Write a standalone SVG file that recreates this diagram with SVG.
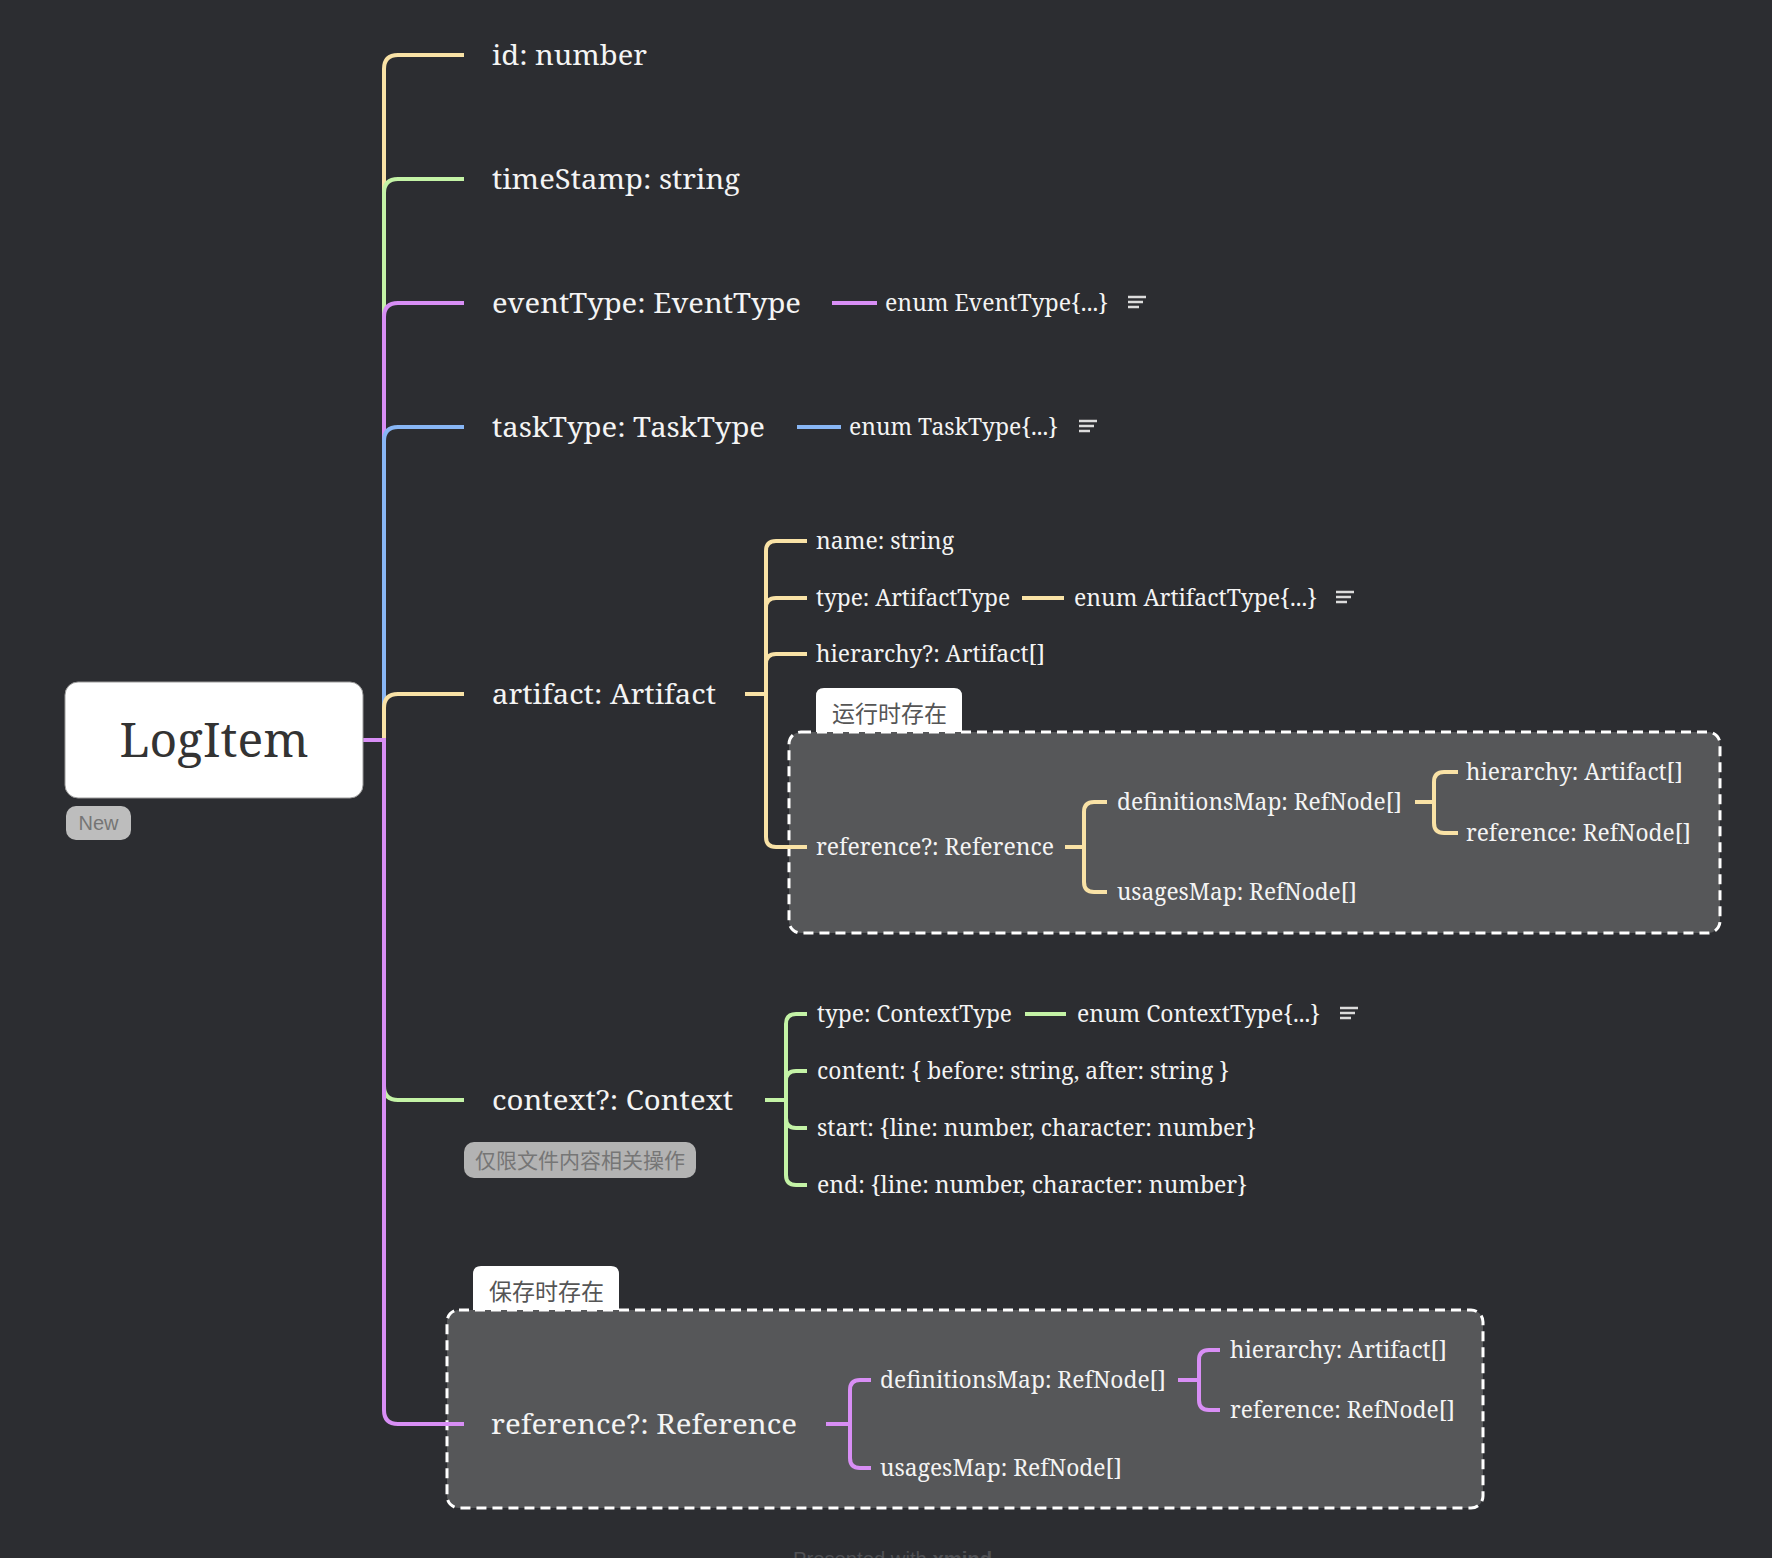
<svg xmlns="http://www.w3.org/2000/svg" width="1772" height="1558" viewBox="0 0 1772 1558">
<style>
.t1{font-family:"Noto Serif","DejaVu Serif",serif;font-size:27px;fill:#f4f4f4}
.t2{font-family:"Noto Serif","DejaVu Serif",serif;font-size:23px;fill:#f4f4f4}
.c{fill:none;stroke-width:4}
.y{stroke:#f9e2a6}.g{stroke:#c4f3a6}.p{stroke:#d88ef5}.b{stroke:#88b6f5}
.note{stroke:#dcdcdc;stroke-width:2.5}
.tag{font-family:"Liberation Sans","Noto Sans CJK SC",sans-serif;font-size:20px;fill:#757575}
.tagc{font-family:"Noto Sans CJK SC","Liberation Sans",sans-serif;font-size:21px;fill:#767676}
.lbl{font-family:"Noto Sans CJK SC","Liberation Sans",sans-serif;font-size:23px;fill:#555}
.bnd{fill:#565759;stroke:#ffffff;stroke-width:3;stroke-dasharray:10 6}
</style>
<defs>
<g id="note"><line class="note" x1="0" y1="-5" x2="18" y2="-5"/><line class="note" x1="0" y1="0" x2="15" y2="0"/><line class="note" x1="0" y1="5" x2="11" y2="5"/></g>
</defs>
<rect width="1772" height="1558" fill="#2c2d31"/>

<g id="boundaries">
<path d="M816,732 V696 Q816,688 824,688 H954 Q962,688 962,696 V732 Z" fill="#ffffff"/>
<text class="lbl" x="832" y="722">运行时存在</text>
<rect class="bnd" x="789" y="732" width="931" height="201" rx="12"/>
<path d="M473,1310 V1274 Q473,1266 481,1266 H611 Q619,1266 619,1274 V1310 Z" fill="#ffffff"/>
<text class="lbl" x="489" y="1300">保存时存在</text>
<rect class="bnd" x="447" y="1310" width="1036" height="198" rx="12"/>
</g>

<g id="connectors">
<path class="c y" d="M384,740 V69 Q384,55 398,55 H464"/>
<path class="c g" d="M384,740 V193 Q384,179 398,179 H464"/>
<path class="c p" d="M384,740 V317 Q384,303 398,303 H464"/>
<path class="c b" d="M384,740 V441 Q384,427 398,427 H464"/>
<path class="c y" d="M384,740 V708 Q384,694 398,694 H464"/>
<path class="c g" d="M384,740 V1086 Q384,1100 398,1100 H464"/>
<path class="c p" d="M384,740 V1410 Q384,1424 398,1424 H464"/>
<path class="c p" d="M363,740 H386"/>
<path class="c p" d="M832,303 H877"/>
<path class="c b" d="M797,427 H841"/>
<path class="c y" d="M745,694 H766"/>
<path class="c y" d="M766,694 V551 Q766,541 776,541 H807"/>
<path class="c y" d="M766,694 V608 Q766,598 776,598 H807"/>
<path class="c y" d="M766,694 V664 Q766,654 776,654 H807"/>
<path class="c y" d="M766,694 V837 Q766,847 776,847 H807"/>
<path class="c y" d="M1022,598 H1064"/>
<path class="c y" d="M1065,847 H1084"/>
<path class="c y" d="M1084,847 V812 Q1084,802 1094,802 H1107"/>
<path class="c y" d="M1084,847 V882 Q1084,892 1094,892 H1107"/>
<path class="c y" d="M1415,802 H1434"/>
<path class="c y" d="M1434,802 V782 Q1434,772 1444,772 H1458"/>
<path class="c y" d="M1434,802 V823 Q1434,833 1444,833 H1458"/>
<path class="c g" d="M765,1100 H786"/>
<path class="c g" d="M786,1100 V1024 Q786,1014 796,1014 H807"/>
<path class="c g" d="M786,1100 V1081 Q786,1071 796,1071 H807"/>
<path class="c g" d="M786,1100 V1118 Q786,1128 796,1128 H807"/>
<path class="c g" d="M786,1100 V1175 Q786,1185 796,1185 H807"/>
<path class="c g" d="M1025,1014 H1066"/>
<path class="c p" d="M826,1424 H850"/>
<path class="c p" d="M850,1424 V1390 Q850,1380 860,1380 H871"/>
<path class="c p" d="M850,1424 V1458 Q850,1468 860,1468 H871"/>
<path class="c p" d="M1178,1380 H1199"/>
<path class="c p" d="M1199,1380 V1360 Q1199,1350 1209,1350 H1220"/>
<path class="c p" d="M1199,1380 V1400 Q1199,1410 1209,1410 H1220"/>
</g>

<g id="logitem">
<rect x="65" y="682" width="298" height="116" rx="13" fill="#ffffff" stroke="#9a9a9a" stroke-width="1"/>
<text x="214" y="757" text-anchor="middle" font-family="Noto Serif, DejaVu Serif, serif" font-size="48" fill="#333333" textLength="189" lengthAdjust="spacingAndGlyphs">LogItem</text>
<rect x="66" y="806" width="65" height="34" rx="10" fill="#bdbdbd"/>
<text class="tag" x="98.5" y="830" text-anchor="middle">New</text>
</g>

<g id="n-id"><text class="t1" x="492" y="65" textLength="155" lengthAdjust="spacingAndGlyphs">id: number</text></g>
<g id="n-timestamp"><text class="t1" x="492" y="189" textLength="248" lengthAdjust="spacingAndGlyphs">timeStamp: string</text></g>
<g id="n-eventtype"><text class="t1" x="492" y="313" textLength="309" lengthAdjust="spacingAndGlyphs">eventType: EventType</text></g>
<g id="n-eventenum"><text class="t2" x="885" y="311" textLength="223" lengthAdjust="spacingAndGlyphs">enum EventType{...}</text><use href="#note" x="1128" y="302"/></g>
<g id="n-tasktype"><text class="t1" x="492" y="437" textLength="273" lengthAdjust="spacingAndGlyphs">taskType: TaskType</text></g>
<g id="n-taskenum"><text class="t2" x="849" y="435" textLength="209" lengthAdjust="spacingAndGlyphs">enum TaskType{...}</text><use href="#note" x="1079" y="426"/></g>

<g id="n-artifact"><text class="t1" x="492" y="704" textLength="224" lengthAdjust="spacingAndGlyphs">artifact: Artifact</text></g>
<g id="n-a-name"><text class="t2" x="816" y="549" textLength="138" lengthAdjust="spacingAndGlyphs">name: string</text></g>
<g id="n-a-type"><text class="t2" x="816" y="606" textLength="194" lengthAdjust="spacingAndGlyphs">type: ArtifactType</text></g>
<g id="n-a-typeenum"><text class="t2" x="1074" y="606" textLength="243" lengthAdjust="spacingAndGlyphs">enum ArtifactType{...}</text><use href="#note" x="1336" y="597"/></g>
<g id="n-a-hierarchy"><text class="t2" x="816" y="662" textLength="229" lengthAdjust="spacingAndGlyphs">hierarchy?: Artifact[]</text></g>
<g id="n-a-reference"><text class="t2" x="816" y="855" textLength="238" lengthAdjust="spacingAndGlyphs">reference?: Reference</text></g>
<g id="n-a-defmap"><text class="t2" x="1117" y="810" textLength="285" lengthAdjust="spacingAndGlyphs">definitionsMap: RefNode[]</text></g>
<g id="n-a-usagesmap"><text class="t2" x="1117" y="900" textLength="240" lengthAdjust="spacingAndGlyphs">usagesMap: RefNode[]</text></g>
<g id="n-a-d-hier"><text class="t2" x="1466" y="780" textLength="217" lengthAdjust="spacingAndGlyphs">hierarchy: Artifact[]</text></g>
<g id="n-a-d-ref"><text class="t2" x="1466" y="841" textLength="225" lengthAdjust="spacingAndGlyphs">reference: RefNode[]</text></g>

<g id="n-context">
<text class="t1" x="492" y="1110" textLength="241" lengthAdjust="spacingAndGlyphs">context?: Context</text>
<rect x="464" y="1142" width="232" height="36" rx="10" fill="#b3b3b3"/>
<text class="tagc" x="580" y="1168" text-anchor="middle">仅限文件内容相关操作</text>
</g>
<g id="n-c-type"><text class="t2" x="817" y="1022" textLength="195" lengthAdjust="spacingAndGlyphs">type: ContextType</text></g>
<g id="n-c-typeenum"><text class="t2" x="1077" y="1022" textLength="243" lengthAdjust="spacingAndGlyphs">enum ContextType{...}</text><use href="#note" x="1340" y="1013"/></g>
<g id="n-c-content"><text class="t2" x="817" y="1079" textLength="412" lengthAdjust="spacingAndGlyphs">content: { before: string, after: string }</text></g>
<g id="n-c-start"><text class="t2" x="817" y="1136" textLength="439" lengthAdjust="spacingAndGlyphs">start: {line: number, character: number}</text></g>
<g id="n-c-end"><text class="t2" x="817" y="1193" textLength="430" lengthAdjust="spacingAndGlyphs">end: {line: number, character: number}</text></g>

<g id="n-reference"><text class="t1" x="491" y="1434" textLength="306" lengthAdjust="spacingAndGlyphs">reference?: Reference</text></g>
<g id="n-r-defmap"><text class="t2" x="880" y="1388" textLength="286" lengthAdjust="spacingAndGlyphs">definitionsMap: RefNode[]</text></g>
<g id="n-r-usagesmap"><text class="t2" x="880" y="1476" textLength="242" lengthAdjust="spacingAndGlyphs">usagesMap: RefNode[]</text></g>
<g id="n-r-d-hier"><text class="t2" x="1230" y="1358" textLength="217" lengthAdjust="spacingAndGlyphs">hierarchy: Artifact[]</text></g>
<g id="n-r-d-ref"><text class="t2" x="1230" y="1418" textLength="225" lengthAdjust="spacingAndGlyphs">reference: RefNode[]</text></g>

<text x="793" y="1566" font-family="Liberation Sans, sans-serif" font-size="20" fill="#505155" textLength="199" lengthAdjust="spacingAndGlyphs">Presented with <tspan font-weight="bold">xmind</tspan></text>
</svg>
